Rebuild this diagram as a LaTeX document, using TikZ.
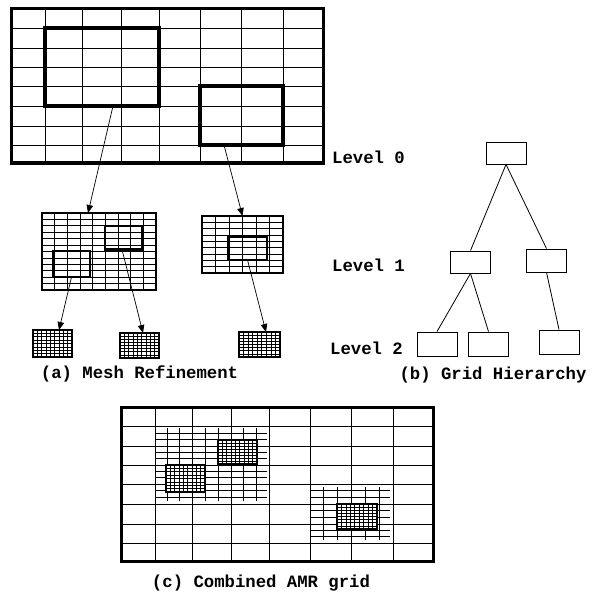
\documentclass[tikz,border=0pt]{standalone}
\usepackage{fontspec}
\setmainfont{Liberation Mono}
\usetikzlibrary{arrows.meta,calc}
\tikzset{
  thinline/.style={line width=0.9pt},
  fineline/.style={line width=0.75pt},
  overlayline/.style={line width=1pt},
  densel/.style={line width=0.6pt},
  outerbox/.style={draw, line width=3pt, inner sep=0pt, outer sep=0pt},
  thickbox/.style={draw, line width=3.4pt, inner sep=0pt, outer sep=0pt},
  midbox/.style={draw, line width=2.4pt, inner sep=0pt, outer sep=0pt},
  patchbox/.style={draw, line width=2pt, inner sep=0pt, outer sep=0pt},
  hbox/.style={draw, line width=0.9pt, inner sep=0pt, minimum width=40pt},
  arr/.style={line width=0.7pt, -{Triangle[length=8pt,width=6.5pt]}},
  conn/.style={line width=0.8pt},
  lbl/.style={font=\fontsize{17.3}{18}\selectfont\bfseries, inner sep=0pt},
}
% grid inside a node: node, cols, rows, style
\newcommand{\mygrid}[4]{%
  \pgfmathtruncatemacro\mgc{#2-1}%
  \pgfmathtruncatemacro\mgr{#3-1}%
  \foreach \k in {1,...,\mgc} \draw[#4] ($(#1.north west)!\k/#2!(#1.north east)$) -- ($(#1.south west)!\k/#2!(#1.south east)$);
  \foreach \k in {1,...,\mgr} \draw[#4] ($(#1.north west)!\k/#3!(#1.south west)$) -- ($(#1.north east)!\k/#3!(#1.south east)$);
}
% coarse level-0 grid lines from origin x0,y0
\newcommand{\coarselines}[2]{%
  \foreach \c in {34,71,110,148,189,230,272} \draw[thinline] (#1+\c,#2) -- (#1+\c,#2+154);
  \foreach \r in {19,39,58,77,97,117,136} \draw[thinline] (#1,#2+\r) -- (#1+312,#2+\r);
}
\begin{document}
\begin{tikzpicture}[x=1pt,y=-1pt]
\useasboundingbox (0,0) rectangle (594,596);
\fill[white] (0,0) rectangle (594,596);

% ---------- (a) top level-0 grid ----------
\coarselines{11}{9}
\node[outerbox, minimum width=312pt, minimum height=154pt, anchor=north west] (g0) at (11,9) {};
\node[thickbox, minimum width=114pt, minimum height=78pt, anchor=north west] (b1) at (45,28) {};
\node[thickbox, minimum width=83pt, minimum height=59pt, anchor=north west] (b2) at (200,86) {};

% level-1 grids
\node[midbox, minimum width=114pt, minimum height=77pt, anchor=north west] (g1) at (42,213) {};
\mygrid{g1}{9}{12}{fineline}
\node[midbox, line width=2.2pt, minimum width=37pt, minimum height=26pt, anchor=north west] (ba) at (53,251) {};
\node[midbox, line width=2.2pt, minimum width=37pt, minimum height=23.5pt, anchor=north west] (bb) at (105,226) {};

\node[midbox, minimum width=81pt, minimum height=57pt, anchor=north west] (g2) at (202,216) {};
\mygrid{g2}{6}{9}{fineline}
\node[midbox, line width=2.2pt, minimum width=39pt, minimum height=23pt, anchor=north west] (bc) at (228,237) {};

% level-2 grids
\node[patchbox, minimum width=39pt, minimum height=27pt, anchor=north west] (h1) at (33,330) {};
\mygrid{h1}{9}{8}{densel}
\node[patchbox, minimum width=39pt, minimum height=25pt, anchor=north west] (h2) at (120,333) {};
\mygrid{h2}{9}{8}{densel}
\node[patchbox, minimum width=41pt, minimum height=25pt, anchor=north west] (h3) at (239,332) {};
\mygrid{h3}{9}{8}{densel}

% arrows
\draw[arr] ([xshift=11pt]b1.south) -- ([xshift=-11pt]g1.north);
\draw[arr] ([xshift=-17.5pt]b2.south) -- (g2.north);
\draw[arr] (ba.south) -- ([xshift=6.5pt]h1.north);
\draw[arr] ([xshift=-1.5pt]bb.south) -- ([xshift=3.5pt]h2.north);
\draw[arr] (bc.south) -- ([xshift=6.5pt]h3.north);

\node[lbl] (ta) at (139.5,374) {(a) Mesh Refinement};

% ---------- (b) hierarchy ----------
\node[lbl, anchor=west] (lv0) at (332,157) {Level 0};
\node[lbl, anchor=west] (lv1) at (332,265) {Level 1};
\node[lbl, anchor=west] (lv2) at (330,348) {Level 2};

\node[hbox, minimum height=22pt] (r0) at (506,153) {};
\node[hbox, minimum height=22pt] (l1a) at (470.5,262) {};
\node[hbox, minimum height=23pt] (l1b) at (546.5,260.5) {};
\node[hbox, minimum height=24pt] (l2a) at (437,344) {};
\node[hbox, minimum height=24pt] (l2b) at (488.5,344) {};
\node[hbox, minimum height=24pt] (l2c) at (559,342) {};
\draw[conn] (r0.south) -- (l1a.north);
\draw[conn] (r0.south) -- (l1b.north);
\draw[conn] (l1a.south) -- (l2a.north);
\draw[conn] (l1a.south) -- (l2b.north);
\draw[conn] (l1b.south) -- (l2c.north);

\node[lbl] (tb) at (493,375) {(b) Grid Hierarchy};

% ---------- (c) combined grid ----------
\coarselines{121}{407}
\node[outerbox, minimum width=312pt, minimum height=154pt, anchor=north west] (g3) at (121,407) {};
% fine overlay 1
\foreach \x in {167.3,179.7,205,218,243.7,256.3} \draw[overlayline] (\x,428) -- (\x,501);
\foreach \y in {433.3,439.7,452.3,458.7,471.3,477.7,490.7,497.3} \draw[overlayline] (156,\y) -- (267,\y);
% fine overlay 2
\foreach \x in {323.7,337.3,365,379} \draw[overlayline] (\x,487) -- (\x,540);
\foreach \y in {490.7,497.3,510.7,517.3,530.3,536.7} \draw[overlayline] (311,\y) -- (390,\y);
% level-2 patches
\node[patchbox, fill=white, minimum width=39pt, minimum height=27pt, anchor=north west] (p1) at (166,465) {};
\mygrid{p1}{9}{8}{densel}
\node[patchbox, fill=white, minimum width=39pt, minimum height=24pt, anchor=north west] (p2) at (218,440) {};
\mygrid{p2}{9}{8}{densel}
\node[patchbox, fill=white, minimum width=40pt, minimum height=25pt, anchor=north west] (p3) at (337,504) {};
\mygrid{p3}{9}{8}{densel}

\node[lbl] (tc) at (261,583) {(c) Combined AMR grid};
\end{tikzpicture}
\end{document}
